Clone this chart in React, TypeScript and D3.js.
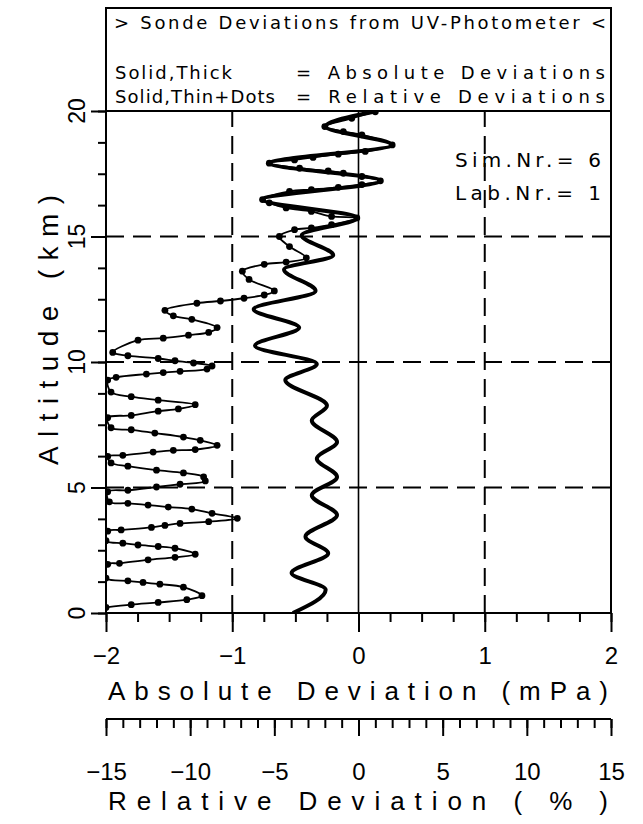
import { useEffect, useRef } from 'react';
import * as d3 from 'd3';

const ALT_TICKS = [0, 5, 10, 15, 20];
const ABS_TICKS = [-2, -1, 0, 1, 2];
const REL_TICKS = [-15, -10, -5, 0, 5, 10, 15];

// thick line: absolute deviation (mPa) against altitude (km)
const absAltitude = [
  0.0, 0.93, 1.59, 2.38, 3.04, 3.9, 4.69, 5.42, 6.15, 6.81, 7.67, 8.26, 9.28, 9.92, 10.65, 11.37, 12.1, 12.83,
  13.69, 14.25, 15.05, 15.74, 16.47, 17.22, 17.92, 18.65, 19.38, 20.0,
];
const absDeviation = [
  -0.52, -0.26, -0.53, -0.24, -0.42, -0.17, -0.37, -0.17, -0.33, -0.17, -0.37, -0.25, -0.58, -0.33, -0.82, -0.47,
  -0.83, -0.34, -0.59, -0.2, -0.45, -0.01, -0.76, 0.17, -0.7, 0.26, -0.26, 0.15,
];

// thin line + dots: relative deviation (%) against altitude (km)
const relAltitude = [
  0.22, 0.33, 0.42, 0.53, 0.69, 1.03, 1.15, 1.22, 1.28, 1.39,
  1.94, 1.98, 2.12, 2.22, 2.34, 2.58, 2.65, 2.71, 2.78, 2.88,
  3.26, 3.31, 3.41, 3.49, 3.57, 3.64, 3.77, 3.97, 4.14, 4.22, 4.3, 4.37, 4.43,
  4.83, 4.89, 5.02, 5.13, 5.26, 5.42, 5.58, 5.69, 5.85, 5.98,
  6.24, 6.28, 6.41, 6.48, 6.51, 6.68, 6.88, 7.01, 7.17, 7.3, 7.38,
  7.78, 7.87, 8.04, 8.13, 8.3, 8.48, 8.62, 8.8,
  9.28, 9.39, 9.52, 9.58, 9.63, 9.72, 9.84, 9.96, 10.05, 10.14, 10.25, 10.38,
  10.87, 10.95, 11.07, 11.18, 11.37, 11.7, 11.84, 12.06, 12.34, 12.43, 12.54, 12.67, 12.83,
  13.29, 13.62, 13.89, 13.98, 14.15, 14.6, 15.0, 15.27, 15.34, 15.47, 15.74,
  15.8, 16.0, 16.14, 16.34, 16.47, 16.8, 16.87, 16.96, 17.07, 17.22,
  17.39, 17.52, 17.61, 17.72, 17.92, 18.05, 18.15, 18.28, 18.39, 18.65,
  19.05, 19.18, 19.38, 19.71, 19.97,
];
const relDeviation = [
  -15.0, -13.5, -11.9, -10.2, -9.3, -10.4, -11.8, -12.8, -13.7, -15.0,
  -14.9, -14.2, -12.5, -10.9, -9.7, -10.9, -11.9, -13.1, -14.0, -15.0,
  -14.9, -14.1, -12.3, -11.5, -10.6, -8.9, -7.2, -8.7, -9.9, -11.3, -12.5, -13.7, -14.8,
  -14.9, -13.7, -12.0, -10.6, -9.1, -9.2, -10.4, -12.0, -13.7, -14.7,
  -14.9, -14.0, -12.2, -11.0, -9.7, -8.4, -9.4, -10.4, -12.1, -13.5, -14.7,
  -14.9, -13.5, -11.9, -10.7, -9.7, -11.9, -13.5, -14.7,
  -14.9, -14.4, -12.6, -11.6, -10.6, -9.0, -8.7, -9.8, -10.9, -11.9, -13.7, -14.6,
  -13.1, -11.6, -10.1, -8.9, -8.4, -9.9, -11.0, -11.5, -9.6, -8.2, -6.8, -5.6, -5.0,
  -6.5, -6.9, -5.6, -4.3, -3.1, -4.1, -4.7, -3.8, -2.8, -1.6, -0.1,
  -1.6, -2.8, -4.3, -5.3, -5.7, -4.1, -2.8, -1.2, 0.2, 1.3,
  0.2, -0.9, -1.8, -3.5, -5.3, -3.8, -2.7, -1.2, 0.4, 2.0,
  0.2, -0.9, -2.0, -0.4, 1.0,
];

export default function App() {
  const svgRef = useRef<SVGSVGElement | null>(null);

  useEffect(() => {
    document.body.style.margin = '0';
    const svgElement = svgRef.current;
    if (!svgElement) {
      return;
    }
    const svg = d3.select(svgElement);
    svg.selectAll('*').remove();

    const plot = { left: 106, right: 611, top: 111, bottom: 613 };
    const relAxisY = 719;
    const font = "'Liberation Sans', Arial, sans-serif";
    const boxFont = "'DejaVu Sans', Verdana, sans-serif";

    const y = d3.scaleLinear().domain([0, 20]).range([plot.bottom, plot.top]);
    const xAbs = d3.scaleLinear().domain([-2, 2]).range([plot.left, plot.right]);
    const xRel = d3.scaleLinear().domain([-15, 15]).range([plot.left, plot.right]);

    svg
      .append('defs')
      .append('clipPath')
      .attr('id', 'plot-clip')
      .append('rect')
      .attr('x', plot.left)
      .attr('y', plot.top)
      .attr('width', plot.right - plot.left)
      .attr('height', plot.bottom - plot.top);

    // grid
    const grid = svg.append('g').attr('stroke', '#000').attr('fill', 'none');
    [-1, 1].forEach((v) => {
      grid
        .append('line')
        .attr('x1', xAbs(v))
        .attr('x2', xAbs(v))
        .attr('y1', plot.bottom)
        .attr('y2', plot.top)
        .attr('stroke-width', 2)
        .attr('stroke-dasharray', '18 9');
    });
    [5, 10, 15].forEach((v) => {
      grid
        .append('line')
        .attr('x1', plot.left)
        .attr('x2', plot.right)
        .attr('y1', y(v))
        .attr('y2', y(v))
        .attr('stroke-width', 2)
        .attr('stroke-dasharray', '18 9');
    });
    grid
      .append('line')
      .attr('x1', xAbs(0))
      .attr('x2', xAbs(0))
      .attr('y1', plot.bottom)
      .attr('y2', plot.top)
      .attr('stroke-width', 1.6);

    // curves
    const curves = svg.append('g').attr('clip-path', 'url(#plot-clip)');

    const absPoints = absAltitude.map((alt, i) => ({ alt, v: absDeviation[i] })).reverse();
    const absLine = d3
      .line<{ alt: number; v: number }>()
      .x((d) => xAbs(d.v))
      .y((d) => y(d.alt))
      .curve(d3.curveMonotoneY);
    curves
      .append('path')
      .attr('d', absLine(absPoints))
      .attr('fill', 'none')
      .attr('stroke', '#000')
      .attr('stroke-width', 4)
      .attr('stroke-linejoin', 'round');

    const relPoints = relAltitude.map((alt, i) => ({ alt, v: relDeviation[i] }));
    const relLine = d3
      .line<{ alt: number; v: number }>()
      .x((d) => xRel(d.v))
      .y((d) => y(d.alt))
      .curve(d3.curveCatmullRom.alpha(0.5));
    curves
      .append('path')
      .attr('d', relLine(relPoints))
      .attr('fill', 'none')
      .attr('stroke', '#000')
      .attr('stroke-width', 1.8);
    curves
      .selectAll('circle')
      .data(relPoints)
      .join('circle')
      .attr('cx', (d) => xRel(d.v))
      .attr('cy', (d) => y(d.alt))
      .attr('r', 3.4)
      .attr('fill', '#000');

    // frame
    svg
      .append('rect')
      .attr('x', plot.left)
      .attr('y', plot.top)
      .attr('width', plot.right - plot.left)
      .attr('height', plot.bottom - plot.top)
      .attr('fill', 'none')
      .attr('stroke', '#000')
      .attr('stroke-width', 2);

    const styleAxis = (g: d3.Selection<SVGGElement, unknown, null, undefined>) => {
      g.select('.domain').remove();
      g.selectAll('line').attr('stroke', '#000').attr('stroke-width', 2);
      g.selectAll('text').attr('fill', '#000').attr('font-family', font).attr('font-size', 24);
    };

    // absolute x axis
    const minorAbs = d3.range(-8, 9).map((k) => k / 4);
    svg
      .append('g')
      .attr('transform', `translate(0,${plot.bottom})`)
      .call(d3.axisBottom(xAbs).tickValues(minorAbs).tickSize(9).tickFormat(() => ''))
      .call(styleAxis);
    svg
      .append('g')
      .attr('transform', `translate(0,${plot.bottom})`)
      .call(d3.axisBottom(xAbs).tickValues(ABS_TICKS).tickSize(19).tickPadding(15).tickFormat(d3.format('d')))
      .call(styleAxis);

    // altitude axis
    const minorAlt = d3.range(0, 17).map((k) => k * 1.25);
    svg
      .append('g')
      .attr('transform', `translate(${plot.left},0)`)
      .call(d3.axisLeft(y).tickValues(minorAlt).tickSize(8).tickFormat(() => ''))
      .call(styleAxis);
    svg
      .append('g')
      .attr('transform', `translate(${plot.left},0)`)
      .call(d3.axisLeft(y).tickValues(ALT_TICKS).tickSize(15).tickFormat(() => ''))
      .call(styleAxis);
    svg
      .append('g')
      .selectAll('text')
      .data(ALT_TICKS)
      .join('text')
      .attr('transform', (d) => `translate(85,${y(d)}) rotate(-90)`)
      .attr('text-anchor', 'middle')
      .attr('font-family', font)
      .attr('font-size', 23)
      .text((d) => d);

    // relative x axis
    const relAxis = svg.append('g').attr('transform', `translate(0,${relAxisY})`);
    relAxis
      .append('line')
      .attr('x1', plot.left)
      .attr('x2', plot.right)
      .attr('stroke', '#000')
      .attr('stroke-width', 2);
    relAxis
      .append('g')
      .call(d3.axisBottom(xRel).tickValues(d3.range(-15, 16)).tickSize(9).tickFormat(() => ''))
      .call(styleAxis);
    relAxis
      .append('g')
      .call(d3.axisBottom(xRel).tickValues(REL_TICKS).tickSize(17).tickPadding(27).tickFormat(d3.format('d')))
      .call(styleAxis);

    // axis titles
    const titles = svg.append('g').attr('font-family', font).attr('fill', '#000');
    titles
      .append('text')
      .attr('x', 108)
      .attr('y', 700)
      .attr('font-size', 26)
      .attr('textLength', 500)
      .attr('lengthAdjust', 'spacing')
      .text('Absolute Deviation (mPa)');
    titles
      .append('text')
      .attr('x', 108)
      .attr('y', 810)
      .attr('font-size', 26)
      .attr('textLength', 500)
      .attr('lengthAdjust', 'spacing')
      .text('Relative Deviation ( % )');
    titles
      .append('text')
      .attr('transform', 'translate(58,465) rotate(-90)')
      .attr('font-size', 28)
      .attr('textLength', 270)
      .attr('lengthAdjust', 'spacing')
      .text('Altitude (km)');

    // legend box
    svg
      .append('rect')
      .attr('x', plot.left)
      .attr('y', 8)
      .attr('width', plot.right - plot.left)
      .attr('height', plot.top - 8)
      .attr('fill', 'none')
      .attr('stroke', '#000')
      .attr('stroke-width', 2);
    const legendRows = [
      { text: '> Sonde Deviations from UV-Photometer <', x: 114, y: 29, len: 492 },
      { text: 'Solid,Thick', x: 115, y: 79, len: 117 },
      { text: '= Absolute Deviations', x: 296, y: 79, len: 309 },
      { text: 'Solid,Thin+Dots', x: 115, y: 103, len: 160 },
      { text: '= Relative Deviations', x: 296, y: 103, len: 309 },
    ];
    svg
      .append('g')
      .selectAll('text')
      .data(legendRows)
      .join('text')
      .attr('x', (d) => d.x)
      .attr('y', (d) => d.y)
      .attr('font-family', boxFont)
      .attr('font-size', 18)
      .attr('textLength', (d) => d.len)
      .attr('lengthAdjust', 'spacing')
      .text((d) => d.text);

    const infoRows = [
      { text: 'Sim.Nr.= 6', y: 167 },
      { text: 'Lab.Nr.= 1', y: 200 },
    ];
    svg
      .append('g')
      .selectAll('text')
      .data(infoRows)
      .join('text')
      .attr('x', 455)
      .attr('y', (d) => d.y)
      .attr('font-family', boxFont)
      .attr('font-size', 20)
      .attr('textLength', 146)
      .attr('lengthAdjust', 'spacing')
      .text((d) => d.text);
  }, []);

  return <svg ref={svgRef} width={643} height={824} style={{ display: 'block', background: '#fff' }} />;
}
